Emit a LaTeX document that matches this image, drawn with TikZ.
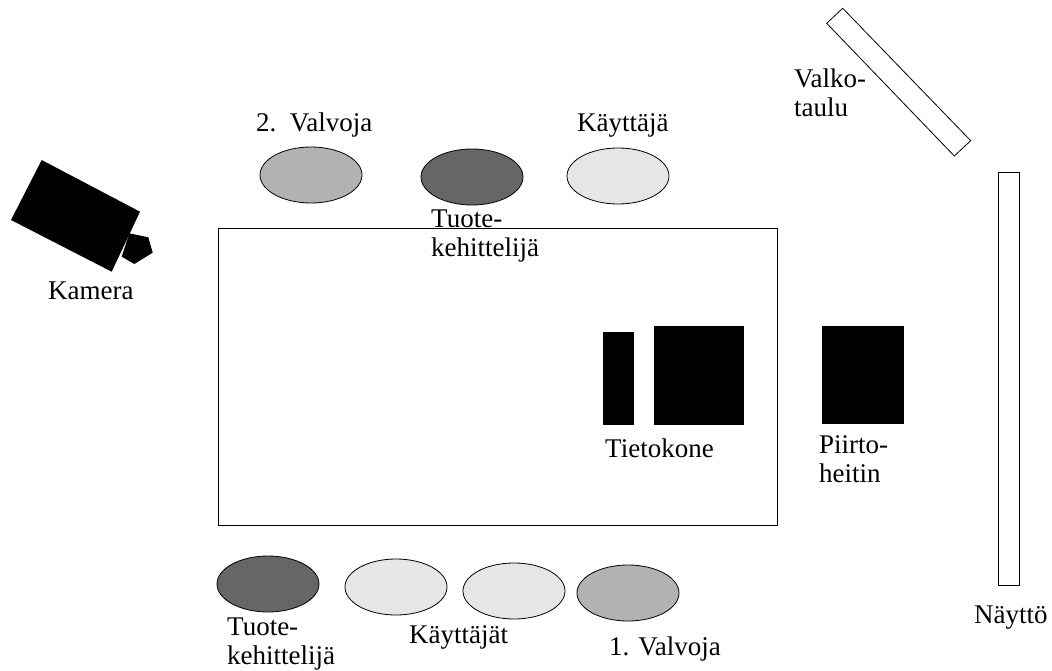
\documentclass[tikz,border=0pt]{standalone}
\usepackage{fontspec}
\setmainfont{Liberation Serif}
\usetikzlibrary{shapes.geometric}
\definecolor{midgray}{HTML}{B2B2B2}
\definecolor{darkgray}{HTML}{666666}
\definecolor{lightgray}{HTML}{E6E6E6}
\tikzset{
  person/.style={ellipse, draw=black, line width=0.8pt, minimum width=102pt, minimum height=56pt, inner sep=0pt},
  lbl/.style={anchor=base west, inner sep=0pt, align=left, font=\fontsize{27}{29}\selectfont},
  blk/.style={fill=black, draw=none},
  outline/.style={draw=black, line width=0.8pt}
}
\begin{document}
\begin{tikzpicture}[x=1pt,y=-1pt]
\useasboundingbox (0,0) rectangle (1052,671);
% table
\node[outline, rectangle, minimum width=559pt, minimum height=297pt, inner sep=0pt, anchor=north west] (table) at (218,228) {};
% top people
\node[person, fill=midgray] (v2) at (311,175) {};
\node[person, fill=darkgray] (tk1) at (472,177) {};
\node[person, fill=lightgray] (k1) at (618,176) {};
% bottom people
\node[person, fill=darkgray] (tk2) at (268,584) {};
\node[person, fill=lightgray] (k2) at (396,587) {};
\node[person, fill=lightgray] (k3) at (514,591) {};
\node[person, fill=midgray] (v1) at (628,593) {};
% computer
\fill[blk] (603,331.5) rectangle (634,425);
\fill[blk] (654,326) rectangle (744,425);
% projector
\fill[blk] (822,326) rectangle (903.5,423.5);
% screen
\draw[outline] (998.5,172.5) rectangle (1019,585);
% whiteboard
\draw[outline] (826.7,23.3) -- (842.7,8.3) -- (970.7,140.7) -- (954.3,156) -- cycle;
% camera
\fill[blk] (41.7,160) -- (140,211.7) -- (111.7,271.7) -- (11,220) -- cycle;
\fill[blk] (129.3,233.3) -- (148.3,237.3) -- (152.7,252.7) -- (134.3,264) -- (121.7,256.7) -- cycle;
% labels (multi-line labels anchored at the baseline of their last line)
\node[lbl] (lv2) at (256,132) {2.\ \ Valvoja};
\node[lbl] (lk1) at (577,132) {Käyttäjä};
\node[lbl] (ltk1) at (431,256) {Tuote-\\kehittelijä};
\node[lbl] (lkam) at (48,299) {Kamera};
\node[lbl] (lval) at (794,117) {Valko-\\taulu};
\node[lbl] (ltiet) at (605,457) {Tietokone};
\node[lbl] (lpiir) at (819,482) {Piirto-\\heitin};
\node[lbl] (lnay) at (974,623) {Näyttö};
\node[lbl] (ltk2) at (227,664) {Tuote-\\kehittelijä};
\node[lbl] (lk2) at (409,643) {Käyttäjät};
\node[lbl] (lv1) at (609,655) {1. Valvoja};
\end{tikzpicture}
\end{document}
